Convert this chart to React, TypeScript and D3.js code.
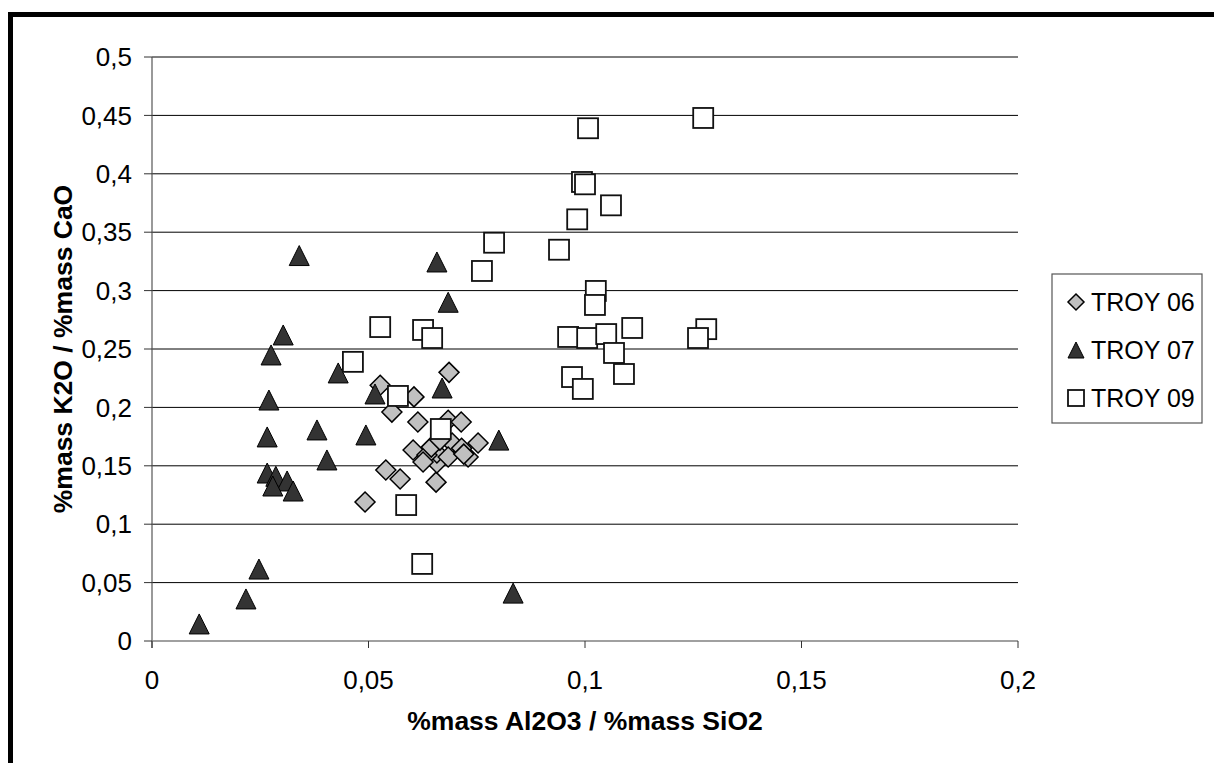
import React from "react";
import * as d3 from "d3";

const xTicks = [0, 0.05, 0.1, 0.15, 0.2];
const yTicks = [0, 0.05, 0.1, 0.15, 0.2, 0.25, 0.3, 0.35, 0.4, 0.45, 0.5];

const troy06: [number, number][] = [
  [0.0686, 0.230], [0.0527, 0.219], [0.0605, 0.209], [0.0554, 0.196],
  [0.0614, 0.1875], [0.0684, 0.189], [0.0714, 0.1875], [0.0603, 0.1635],
  [0.0753, 0.1695], [0.073, 0.1575], [0.054, 0.1464], [0.0573, 0.1387],
  [0.0656, 0.136], [0.0492, 0.119], [0.0658, 0.1524], [0.0693, 0.1695],
  [0.0658, 0.161], [0.0635, 0.1592], [0.0626, 0.1532], [0.0684, 0.1575],
  [0.0715, 0.165], [0.0645, 0.166], [0.072, 0.160], [0.0665, 0.172],
];

const troy07: [number, number][] = [
  [0.0109, 0.0146], [0.0217, 0.036], [0.0247, 0.0616],
  [0.0266, 0.1438], [0.0286, 0.141], [0.0312, 0.137], [0.0279, 0.1327], [0.0326, 0.1284],
  [0.0266, 0.1747], [0.027, 0.2063], [0.0275, 0.2449], [0.0303, 0.262],
  [0.0381, 0.1807], [0.0404, 0.155], [0.043, 0.2295], [0.034, 0.330],
  [0.0494, 0.1764], [0.0515, 0.2115], [0.067, 0.2166], [0.0801, 0.172],
  [0.0658, 0.3245], [0.0684, 0.290], [0.0834, 0.041],
];

const troy09: [number, number][] = [
  [0.1273, 0.4478], [0.1007, 0.439], [0.0993, 0.393], [0.1000, 0.391],
  [0.106, 0.373], [0.0982, 0.361], [0.079, 0.341], [0.094, 0.335],
  [0.0762, 0.3168], [0.1025, 0.2997], [0.1023, 0.2877], [0.0527, 0.2688],
  [0.0626, 0.2663], [0.0647, 0.2594], [0.0961, 0.2603], [0.1005, 0.2594],
  [0.1049, 0.2628], [0.1109, 0.268], [0.128, 0.267], [0.1261, 0.2594],
  [0.1067, 0.2466], [0.109, 0.2286], [0.097, 0.226], [0.0995, 0.2158],
  [0.0464, 0.239], [0.0568, 0.2098], [0.0667, 0.1815], [0.0587, 0.1164],
  [0.0624, 0.066],
];

const seriesNames = ["TROY 06", "TROY 07", "TROY 09"];

const fmt = (v: number) => String(v).replace(".", ",");

const FONT = "'Liberation Sans', Arial, sans-serif";

function Marker({ kind, x, y, s }: { kind: number; x: number; y: number; s: number }) {
  const h = s / 2;
  if (kind === 0) {
    return (
      <path
        d={`M${x},${y - h}L${x + h},${y}L${x},${y + h}L${x - h},${y}Z`}
        fill="#c0c0c0"
        stroke="#000"
        strokeWidth={1.5}
      />
    );
  }
  if (kind === 1) {
    return (
      <path
        d={`M${x},${y - h}L${x + h},${y + h}L${x - h},${y + h}Z`}
        fill="#333333"
        stroke="#000"
        strokeWidth={1}
      />
    );
  }
  return (
    <rect x={x - h} y={y - h} width={s} height={s} fill="#fff" stroke="#111" strokeWidth={1.8} />
  );
}

export default function App() {
  const x = d3.scaleLinear().domain([0, 0.2]).range([152, 1018]);
  const y = d3.scaleLinear().domain([0, 0.5]).range([641, 57]);
  const all = [troy06, troy07, troy09];

  return (
    <svg
      width={1214}
      height={763}
      style={{ position: "absolute", left: 0, top: 0, background: "#fff" }}
      fontFamily={FONT}
    >
      <rect x={0} y={0} width={1214} height={763} fill="#fff" />
      {/* grid lines */}
      {yTicks.slice(1).map((t) => (
        <line key={"g" + t} x1={x(0)} x2={x(0.2)} y1={y(t)} y2={y(t)} stroke="#000" strokeWidth={1} />
      ))}
      {/* y axis */}
      <line x1={x(0)} x2={x(0)} y1={y(0.5)} y2={y(0) + 7} stroke="#555" strokeWidth={1.2} />
      {yTicks.map((t) => (
        <g key={"yt" + t}>
          <line x1={x(0) - 8} x2={x(0)} y1={y(t)} y2={y(t)} stroke="#333" strokeWidth={1} />
          <text x={132} y={y(t)} dy="0.35em" textAnchor="end" fontSize={26} fill="#000">
            {fmt(t)}
          </text>
        </g>
      ))}
      {/* x axis */}
      <line x1={x(0)} x2={x(0.2)} y1={y(0)} y2={y(0)} stroke="#808080" strokeWidth={1.6} />
      {xTicks.map((t) => (
        <g key={"xt" + t}>
          <line x1={x(t)} x2={x(t)} y1={y(0)} y2={y(0) + 7} stroke="#333" strokeWidth={1} />
          <text x={x(t)} y={689} textAnchor="middle" fontSize={26} fill="#000">
            {fmt(t)}
          </text>
        </g>
      ))}
      {/* points */}
      {all.map((pts, k) =>
        pts.map((p, i) => <Marker key={k + "-" + i} kind={k} x={x(p[0])} y={y(p[1])} s={20} />)
      )}
      {/* axis titles */}
      <text x={(x(0) + x(0.2)) / 2} y={730} textAnchor="middle" fontSize={26.5} fontWeight="bold">
        %mass Al2O3 / %mass SiO2
      </text>
      <text
        transform={`translate(72, ${(y(0) + y(0.5)) / 2}) rotate(-90)`}
        textAnchor="middle"
        fontSize={26.5}
        fontWeight="bold"
      >
        %mass K2O / %mass CaO
      </text>
      {/* legend */}
      <rect x={1052} y={274} width={150} height={149} fill="#fff" stroke="#555" strokeWidth={1.2} />
      {seriesNames.map((n, i) => (
        <g key={n}>
          <Marker kind={i} x={1076} y={302 + i * 48} s={16} />
          <text x={1091} y={302 + i * 48} dy="0.36em" fontSize={25}>
            {n}
          </text>
        </g>
      ))}
      {/* outer frame */}
      <rect x={10.5} y={14.5} width={1400} height={1000} fill="none" stroke="#000" strokeWidth={5} />
    </svg>
  );
}
